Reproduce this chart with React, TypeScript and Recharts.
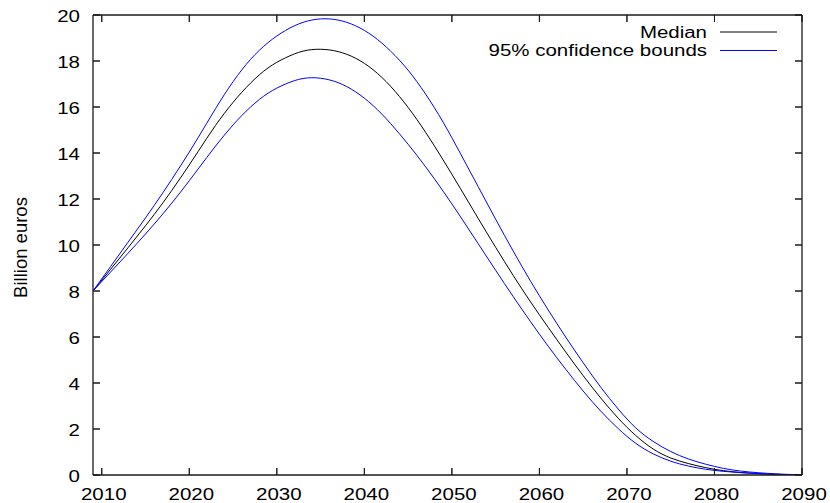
import React from 'react';
import { LineChart, Line, XAxis, YAxis, Legend } from 'recharts';

const years = [2009, 2011, 2013, 2015, 2017, 2019, 2021, 2023, 2025, 2027, 2029, 2031, 2033, 2035, 2037, 2039, 2041, 2043, 2045, 2047, 2049, 2051, 2053, 2055, 2057, 2059, 2061, 2063, 2065, 2067, 2069, 2071, 2073, 2075, 2077, 2079, 2081, 2083, 2085, 2087, 2089, 2090];
const median = [8.0, 8.94, 9.88, 10.84, 11.84, 12.92, 14.06, 15.2, 16.2, 17.04, 17.7, 18.14, 18.43, 18.51, 18.41, 18.12, 17.62, 16.9, 15.98, 14.9, 13.7, 12.44, 11.16, 9.9, 8.68, 7.52, 6.42, 5.35, 4.32, 3.35, 2.47, 1.72, 1.13, 0.74, 0.5, 0.32, 0.19, 0.11, 0.06, 0.03, 0.012, 0.008];
const upper = [8.0, 9.06, 10.12, 11.18, 12.28, 13.44, 14.66, 15.93, 17.1, 18.07, 18.8, 19.33, 19.68, 19.83, 19.78, 19.53, 19.08, 18.43, 17.6, 16.56, 15.34, 13.96, 12.54, 11.12, 9.74, 8.42, 7.18, 6.0, 4.88, 3.82, 2.87, 2.05, 1.46, 1.02, 0.7, 0.47, 0.29, 0.17, 0.1, 0.05, 0.02, 0.012];
const lower = [8.0, 8.82, 9.64, 10.48, 11.36, 12.3, 13.3, 14.3, 15.22, 16.0, 16.6, 17.0, 17.24, 17.25, 17.06, 16.66, 16.06, 15.28, 14.38, 13.4, 12.34, 11.22, 10.06, 8.9, 7.76, 6.66, 5.6, 4.6, 3.65, 2.78, 2.02, 1.38, 0.92, 0.6, 0.39, 0.25, 0.16, 0.1, 0.06, 0.03, 0.01, 0.005];
const xTicks = [2010, 2020, 2030, 2040, 2050, 2060, 2070, 2080, 2090];
const yTicks = [0, 2, 4, 6, 8, 10, 12, 14, 16, 18, 20];
const seriesNames = ['Median', '95% confidence bounds'];
const yAxisTitle = 'Billion euros';

const data = years.map((year, i) => ({ year, median: median[i], upper: upper[i], lower: lower[i] }));

const FONT = '"Liberation Sans", Arial, Helvetica, sans-serif';
const SX = 1.28;
const AXIS = '#1a1a1a';
const TL = 7;

function BottomTick(props: any) {
  const { x, y, payload } = props;
  return (
    <g>
      <line x1={x} x2={x} y1={y} y2={y + TL} stroke={AXIS} strokeWidth={1} />
      <text transform={`translate(${x + 2},${y + TL + 25}) scale(${SX},1)`} textAnchor="middle" fontSize={16} fontFamily={FONT} fill="#000">
        {payload.value}
      </text>
    </g>
  );
}

function TopTick(props: any) {
  const { x, y } = props;
  return <line x1={x} x2={x} y1={y} y2={y - TL} stroke={AXIS} strokeWidth={1} />;
}

function LeftTick(props: any) {
  const { x, y, payload } = props;
  return (
    <g>
      <line x1={x - TL} x2={x} y1={y} y2={y} stroke={AXIS} strokeWidth={1} />
      <text transform={`translate(${x - TL - 13},${y + 6.5}) scale(${SX},1)`} textAnchor="end" fontSize={16} fontFamily={FONT} fill="#000">
        {payload.value}
      </text>
    </g>
  );
}

function RightTick(props: any) {
  const { x, y } = props;
  return <line x1={x} x2={x + TL} y1={y} y2={y} stroke={AXIS} strokeWidth={1} />;
}

function YTitle() {
  return (
    <text transform="translate(26.5,247.5) rotate(-90)" textAnchor="middle" fontSize={18.5} fontFamily={FONT} fill="#000">
      {yAxisTitle}
    </text>
  );
}

function LegendContent(props: any) {
  const payload = (props.payload || [])
    .filter((p: any) => seriesNames.indexOf(p.value) >= 0)
    .sort((a: any, b: any) => seriesNames.indexOf(a.value) - seriesNames.indexOf(b.value));
  return (
    <svg width={830} height={62} style={{ display: 'block' }}>
      {payload.map((p: any, i: number) => {
        const cy = 32 + i * 18.5;
        return (
          <g key={i}>
            <text transform={`translate(707,${cy + 5.5}) scale(${SX},1)`} textAnchor="end" fontSize={16} fontFamily={FONT} fill="#000">
              {p.value}
            </text>
            <line x1={720} x2={777} y1={cy} y2={cy} stroke={p.color} strokeWidth={1} />
          </g>
        );
      })}
    </svg>
  );
}

const axisLine = { stroke: AXIS, strokeWidth: 1.3 };
const tickLine = { stroke: AXIS, strokeWidth: 1 };

export default function App() {
  return (
    <div style={{ position: 'absolute', left: 0, top: 0, width: 830, height: 503, background: '#fff' }}>
      <LineChart width={830} height={503} data={data} margin={{ top: 14, right: 27, bottom: 0, left: 0 }}>
        <XAxis
          dataKey="year"
          type="number"
          domain={[2009, 2090]}
          ticks={xTicks}
          interval={0}
          height={28}
          tickSize={-TL}
          tickMargin={0}
          tickLine={tickLine}
          axisLine={axisLine}
          tick={<BottomTick />}
          allowDataOverflow
        />
        <XAxis
          xAxisId="top"
          orientation="top"
          dataKey="year"
          type="number"
          domain={[2009, 2090]}
          ticks={xTicks}
          interval={0}
          height={1}
          tickSize={-TL}
          tickMargin={0}
          tickLine={tickLine}
          axisLine={axisLine}
          tick={<TopTick />}
          allowDataOverflow
        />
        <YAxis
          type="number"
          domain={[0, 20]}
          ticks={yTicks}
          interval={0}
          width={93}
          tickSize={-TL}
          tickMargin={0}
          tickLine={tickLine}
          axisLine={axisLine}
          tick={<LeftTick />}
          label={<YTitle />}
          allowDataOverflow
        />
        <YAxis
          yAxisId="right"
          orientation="right"
          type="number"
          domain={[0, 20]}
          ticks={yTicks}
          interval={0}
          width={1}
          tickSize={-TL}
          tickMargin={0}
          tickLine={tickLine}
          axisLine={axisLine}
          tick={<RightTick />}
          allowDataOverflow
        />
        <Legend
          layout="vertical"
          verticalAlign="middle"
          align="center"
          wrapperStyle={{ left: 0, top: 0, width: 830, height: 62 }}
          content={<LegendContent />}
        />
        <Line type="natural" dataKey="median" name={seriesNames[0]} stroke="#000000" strokeWidth={1} dot={false} activeDot={false} isAnimationActive={false} />
        <Line type="natural" dataKey="upper" name={seriesNames[1]} stroke="#0000ff" strokeWidth={1} dot={false} activeDot={false} isAnimationActive={false} />
        <Line type="natural" dataKey="lower" name="lower bound" legendType="none" stroke="#0000ff" strokeWidth={1} dot={false} activeDot={false} isAnimationActive={false} />
      </LineChart>
    </div>
  );
}
